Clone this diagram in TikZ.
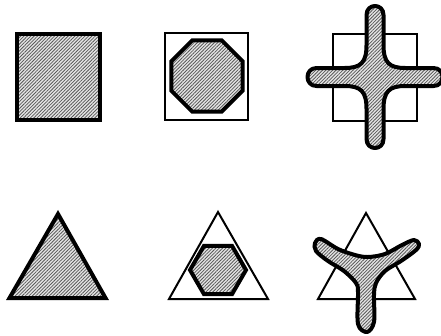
\documentclass[tikz,border=0pt]{standalone}
\usetikzlibrary{patterns.meta}
\begin{document}
\begin{tikzpicture}[x=1pt,y=-1pt,
  hatched/.style={preaction={fill=gray!20},pattern={Lines[angle=45,distance=2.4pt,line width=0.8pt]},pattern color=black!65},
  thickline/.style={draw=black,line width=4pt},
  thinline/.style={draw=black,line width=2pt}]
\useasboundingbox (0,0) rectangle (441,335);
% row 1
\draw[thickline,hatched] (17,34) rectangle (100,120);
\draw[thinline] (165,33) rectangle (248,120);
\draw[thickline,hatched] (207,76) ++(22.5:38.5) -- ++(135:29.5) -- ++(180:29.5) -- ++(225:29.5) -- ++(270:29.5) -- ++(315:29.5) -- ++(0:29.5) -- ++(45:29.5) -- cycle;
\draw[thinline] (333,34) rectangle (417,121);
\draw[thickline,hatched,line join=round] (375,77)
  ++(8.5,-62) .. controls ++(0,-12) and ++(0,-12) .. ++(-17,0)
  -- ++(0,30) .. controls ++(0,18) and ++(16,0) .. ++(-22,23)
  -- ++(-28,0) .. controls ++(-12,0) and ++(-12,0) .. ++(0,18)
  -- ++(28,0) .. controls ++(16,0) and ++(0,-18) .. ++(22,23)
  -- ++(0,30) .. controls ++(0,12) and ++(0,12) .. ++(17,0)
  -- ++(0,-30) .. controls ++(0,-18) and ++(-16,0) .. ++(22,-23)
  -- ++(28,0) .. controls ++(12,0) and ++(12,0) .. ++(0,-18)
  -- ++(-28,0) .. controls ++(-16,0) and ++(0,18) .. ++(-22,-23)
  -- cycle;
% row 2
\draw[thickline,hatched] (58,214) -- (105.5,298) -- (9.5,298) -- cycle;
\draw[thinline] (218,212) -- (268,299) -- (169,299) -- cycle;
\draw[thickline,hatched] (246,270) -- (232,245.8) -- (204,245.8) -- (190,270) -- (204,294.2) -- (232,294.2) -- cycle;
\draw[thinline] (366,213) -- (415,299) -- (318,299) -- cycle;
\draw[thickline,hatched,line join=round] plot[smooth cycle,tension=0.55] coordinates {
 (315,243) (321,239) (338,249) (355,255) (368,257) (385,254) (402,245) (414,240)
 (419,244) (416,250) (401,261) (385,271) (376,283) (374,295) (374,322) (367,332)
 (358,324) (358,292) (356,283) (344,271) (328,261) (316,251)};
\end{tikzpicture}
\end{document}
